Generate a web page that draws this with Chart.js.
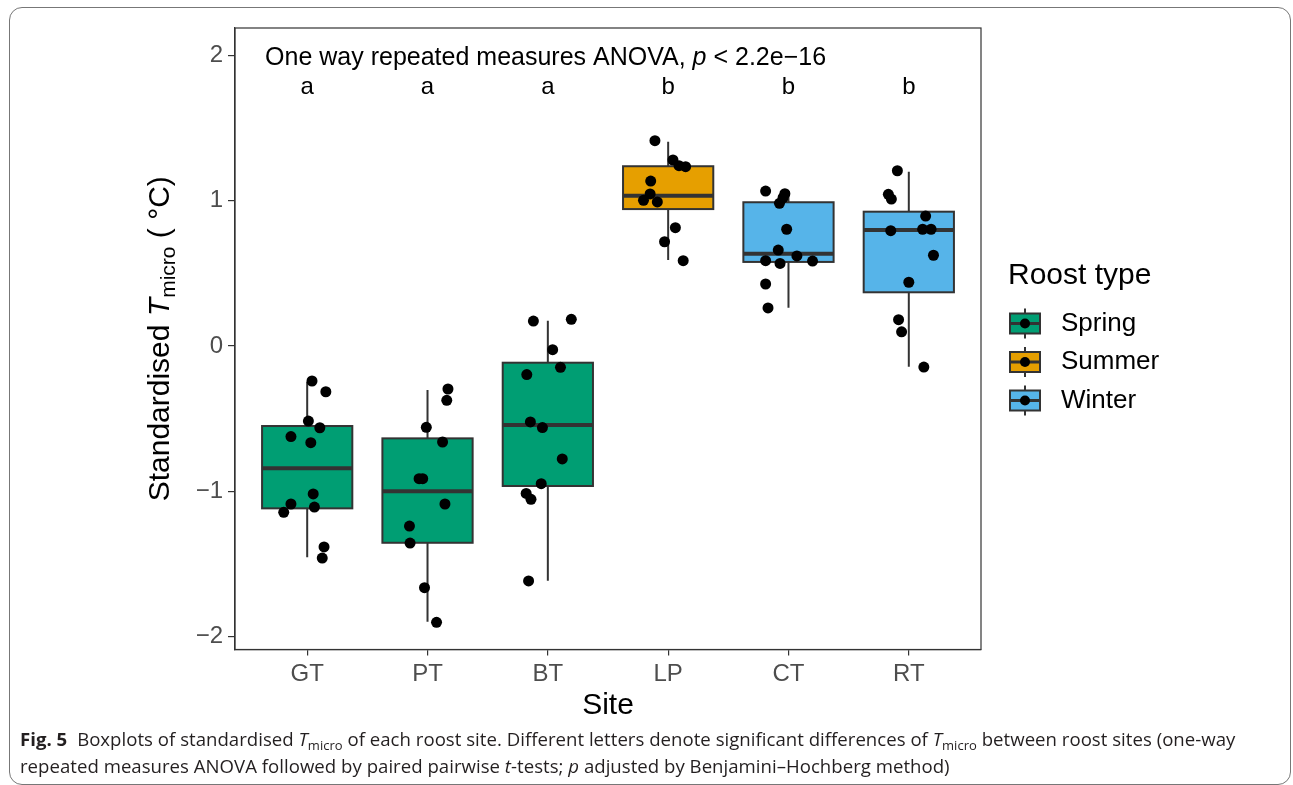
<!DOCTYPE html>
<html>
<head>
<meta charset="utf-8">
<script src="https://cdn.jsdelivr.net/npm/chart.js@4.4.1/dist/chart.umd.min.js"></script>
<style>
  html, body { margin: 0; padding: 0; background: #fff; }
  body { width: 1293px; height: 785px; position: relative; overflow: hidden; }
  #frame { position: absolute; left: 9px; top: 7px; width: 1282px; height: 778px; border: 1.5px solid #777; border-radius: 13px; box-sizing: border-box; }
  #myChart { position: absolute; left: 0; top: 0; }
  #caption { position: absolute; left: 20px; top: 725px; font-family: "Open Sans"; font-size: 18.6px; line-height: 27px; color: #231f20; white-space: nowrap; letter-spacing: 0.02px; }
  #caption b { font-weight: 700; margin-right: 5px; }
  #caption sub { font-size: 13px; vertical-align: -4px; line-height: 0; }
</style>
</head>
<body>
<div id="frame"></div>
<canvas id="myChart" width="1293" height="785"></canvas>
<div id="caption"><b>Fig. 5</b> Boxplots of standardised <i>T</i><sub>micro</sub> of each roost site. Different letters denote significant differences of <i>T</i><sub>micro</sub> between roost sites (one-way<br>repeated measures ANOVA followed by paired pairwise <i>t</i>-tests; <i>p</i> adjusted by Benjamini–Hochberg method)</div>
<script>
// sites and groups
const sites = ['GT', 'PT', 'BT', 'LP', 'CT', 'RT'];
const roostType = ['Spring', 'Spring', 'Spring', 'Summer', 'Winter', 'Winter'];
const roostTypes = ['Spring', 'Summer', 'Winter'];
const letters = ['a', 'a', 'a', 'b', 'b', 'b'];
const yTicks = [-2, -1, 0, 1, 2];

// box stats
const whiskerLow = [-1.455, -1.899, -1.616, 0.592, 0.264, -0.142];
const q1 = [-1.118, -1.355, -0.964, 0.943, 0.579, 0.370];
const median = [-0.842, -1.001, -0.544, 1.035, 0.636, 0.799];
const q3 = [-0.551, -0.636, -0.115, 1.238, 0.990, 0.925];
const whiskerHigh = [-0.246, -0.303, 0.174, 1.407, 1.067, 1.200];

// jittered points: value + horizontal offset (in category units)
const gtValues = [-0.241, -0.315, -0.517, -0.563, -0.624, -0.666, -1.019, -1.088, -1.109, -1.145, -1.384, -1.460];
const gtJitter = [0.04, 0.155, 0.01, 0.105, -0.135, 0.03, 0.05, -0.135, 0.06, -0.195, 0.14, 0.125];
const ptValues = [-0.296, -0.374, -0.560, -0.661, -0.914, -0.914, -1.088, -1.240, -1.357, -1.664, -1.903];
const ptJitter = [0.17, 0.16, -0.01, 0.125, -0.07, -0.04, 0.145, -0.15, -0.145, -0.025, 0.075];
const btValues = [0.172, 0.184, -0.025, -0.147, -0.197, -0.523, -0.562, -0.778, -0.948, -1.015, -1.056, -1.618];
const btJitter = [-0.12, 0.195, 0.04, 0.105, -0.175, -0.145, -0.045, 0.12, -0.055, -0.18, -0.14, -0.16];
const lpValues = [1.414, 1.281, 1.242, 1.235, 1.136, 1.047, 1.003, 0.992, 0.815, 0.718, 0.588];
const lpJitter = [-0.11, 0.04, 0.09, 0.145, -0.145, -0.15, -0.205, -0.09, 0.06, -0.03, 0.125];
const ctValues = [1.067, 1.049, 1.021, 0.983, 0.804, 0.661, 0.620, 0.588, 0.569, 0.585, 0.427, 0.262];
const ctJitter = [-0.19, -0.03, -0.045, -0.075, -0.015, -0.085, 0.07, -0.19, -0.07, 0.2, -0.19, -0.17];
const rtValues = [1.207, 1.045, 1.012, 0.895, 0.794, 0.804, 0.804, 0.625, 0.439, 0.181, 0.098, -0.145];
const rtJitter = [-0.095, -0.17, -0.145, 0.14, -0.15, 0.115, 0.185, 0.205, 0, -0.085, -0.06, 0.125];

const fills = { Spring: '#009E73', Summer: '#E69F00', Winter: '#56B4E9' };
const ink = '#333333';
const fontFam = '"Liberation Sans", Arial, sans-serif';

const allValues = [gtValues, ptValues, btValues, lpValues, ctValues, rtValues];
const allJitter = [gtJitter, ptJitter, btJitter, lpJitter, ctJitter, rtJitter];
const points = [];
allValues.forEach((vals, i) => {
  vals.forEach((v, k) => points.push({ x: i + allJitter[i][k], y: v }));
});

const boxPlugin = {
  id: 'boxes',
  beforeDatasetsDraw(chart) {
    const { ctx, scales: { x, y } } = chart;
    const half = 0.375;
    sites.forEach((s, i) => {
      const xc = x.getPixelForValue(i);
      const xl = x.getPixelForValue(i - half);
      const xr = x.getPixelForValue(i + half);
      const yt = y.getPixelForValue(q3[i]);
      const yb = y.getPixelForValue(q1[i]);
      ctx.save();
      ctx.strokeStyle = ink;
      ctx.lineWidth = 2;
      ctx.beginPath();
      ctx.moveTo(xc, y.getPixelForValue(whiskerHigh[i]));
      ctx.lineTo(xc, yt);
      ctx.moveTo(xc, yb);
      ctx.lineTo(xc, y.getPixelForValue(whiskerLow[i]));
      ctx.stroke();
      ctx.fillStyle = fills[roostType[i]];
      ctx.fillRect(xl, yt, xr - xl, yb - yt);
      ctx.strokeRect(xl, yt, xr - xl, yb - yt);
      const ym = y.getPixelForValue(median[i]);
      ctx.lineWidth = 4;
      ctx.beginPath();
      ctx.moveTo(xl, ym);
      ctx.lineTo(xr, ym);
      ctx.stroke();
      ctx.restore();
    });
  },
  afterDraw(chart) {
    const { ctx, chartArea: a, scales: { x, y } } = chart;
    ctx.save();
    // panel border
    ctx.strokeStyle = ink;
    ctx.lineWidth = 1.2;
    ctx.strokeRect(a.left, a.top, a.right - a.left, a.bottom - a.top);

    // test annotation
    ctx.fillStyle = '#000';
    ctx.textBaseline = 'middle';
    ctx.textAlign = 'left';
    let tx = x.getPixelForValue(-0.35);
    const ty = y.getPixelForValue(1.98);
    const parts = [['One way repeated measures ANOVA, ', ''], ['p', 'italic '], [' < 2.2e\u221216', '']];
    parts.forEach(([t, st]) => {
      ctx.font = st + '25px ' + fontFam;
      ctx.fillText(t, tx, ty);
      tx += ctx.measureText(t).width;
    });

    // letters
    ctx.textAlign = 'center';
    ctx.font = '24px ' + fontFam;
    letters.forEach((l, i) => ctx.fillText(l, x.getPixelForValue(i), y.getPixelForValue(1.78)));

    // y title with subscript
    const cx = 161, cy = (a.top + a.bottom) / 2;
    const seg = [['Standardised ', '30px', 0], ['T', 'italic 30px', 0], ['micro', '21px', 8], [' ( \u00B0C)', '30px', 0]];
    let total = 0;
    seg.forEach(([t, f]) => { ctx.font = f + ' ' + fontFam; total += ctx.measureText(t).width; });
    ctx.translate(cx, cy);
    ctx.rotate(-Math.PI / 2);
    ctx.textAlign = 'left';
    let px = -total / 2;
    seg.forEach(([t, f, dy]) => {
      ctx.font = f + ' ' + fontFam;
      ctx.fillText(t, px, dy);
      px += ctx.measureText(t).width;
    });
    ctx.restore();

    // legend
    ctx.save();
    ctx.fillStyle = '#000';
    ctx.textBaseline = 'middle';
    ctx.textAlign = 'left';
    ctx.font = '30px ' + fontFam;
    ctx.fillText('Roost type', 1008, 276);
    roostTypes.forEach((r, k) => {
      const cyk = 323.5 + k * 38.5;
      const kl = 1010, kr = 1040, kc = (kl + kr) / 2;
      ctx.strokeStyle = ink;
      ctx.lineWidth = 2;
      ctx.beginPath();
      ctx.moveTo(kc, cyk - 15); ctx.lineTo(kc, cyk - 10);
      ctx.moveTo(kc, cyk + 10); ctx.lineTo(kc, cyk + 15);
      ctx.stroke();
      ctx.fillStyle = fills[r];
      ctx.fillRect(kl, cyk - 10, kr - kl, 20);
      ctx.strokeRect(kl, cyk - 10, kr - kl, 20);
      ctx.lineWidth = 3;
      ctx.beginPath();
      ctx.moveTo(kl, cyk); ctx.lineTo(kr, cyk);
      ctx.stroke();
      ctx.fillStyle = '#000';
      ctx.beginPath();
      ctx.arc(kc, cyk, 5, 0, Math.PI * 2);
      ctx.fill();
      ctx.font = '26px ' + fontFam;
      ctx.fillText(r, 1061, cyk);
    });
    ctx.restore();
  }
};

const config = {
  type: 'scatter',
  data: {
    datasets: [{
      data: points,
      backgroundColor: '#000',
      borderWidth: 0,
      pointRadius: 5.5,
      pointHoverRadius: 5.5
    }]
  },
  options: {
    responsive: false,
    animation: false,
    layout: { padding: { left: 0, top: 28, right: 312, bottom: 0 } },
    plugins: {
      legend: { display: false },
      tooltip: { enabled: false }
    },
    scales: {
      x: {
        type: 'linear',
        min: -0.6,
        max: 5.6,
        afterFit: (scale) => { scale.height = 135.5; },
        afterBuildTicks: (scale) => { scale.ticks = sites.map((s, i) => ({ value: i })); },
        ticks: {
          callback: (v) => sites[v],
          color: '#4d4d4d',
          font: { family: fontFam, size: 24 },
          padding: 4,
          maxRotation: 0,
          autoSkip: false
        },
        grid: { drawOnChartArea: false, drawTicks: true, tickLength: 6, color: ink, lineWidth: 1.2 },
        border: { display: true, color: ink, width: 1.2 },
        title: {
          display: true,
          text: 'Site',
          color: '#000',
          font: { family: fontFam, size: 30 },
          padding: { top: 0, bottom: 61 }
        }
      },
      y: {
        min: -2.09,
        max: 2.19,
        afterFit: (scale) => { scale.width = 235; },
        afterBuildTicks: (scale) => { scale.ticks = yTicks.map(v => ({ value: v })); },
        ticks: {
          callback: (v) => (v < 0 ? '\u2212' + Math.abs(v) : String(v)),
          color: '#4d4d4d',
          font: { family: fontFam, size: 24 },
          padding: 5
        },
        grid: { drawOnChartArea: false, drawTicks: true, tickLength: 7, color: ink, lineWidth: 1.2 },
        border: { display: true, color: ink, width: 1.2 }
      }
    }
  },
  plugins: [boxPlugin]
};

const myChart = new Chart(document.getElementById('myChart'), config);
</script>
</body>
</html>
